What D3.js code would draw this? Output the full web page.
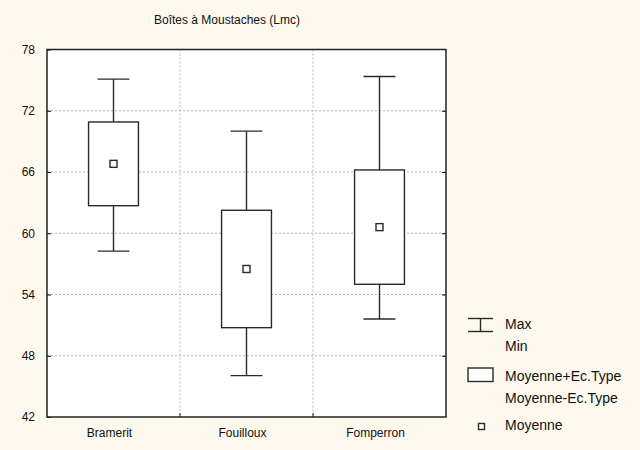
<!DOCTYPE html>
<html>
<head>
<meta charset="utf-8">
<script src="https://cdn.jsdelivr.net/npm/d3@7"></script>
<style>
  body { margin: 0; background: #fdf9ee; }
  svg { display: block; font-family: "Liberation Sans", Arial, sans-serif; }
  .tick text { font-size: 12px; fill: #111; }
</style>
</head>
<body>
<div id="chart"></div>
<script>
// data
const categories = ["Bramerit", "Fouilloux", "Fomperron"];
const means = [66.8, 56.5, 60.6];
const stdDevs = [4.1, 5.75, 5.6];
const mins = [58.25, 46.05, 51.6];
const maxs = [75.1, 70.0, 75.35];
const yTicks = [42, 48, 54, 60, 66, 72, 78];

const width = 640, height = 450;
const margin = {top: 49.5, right: 194, bottom: 33, left: 47};

const svg = d3.select("#chart")
    .append("svg")
    .attr("width", width)
    .attr("height", height);

svg.append("rect")
    .attr("width", width)
    .attr("height", height)
    .attr("fill", "#fdf9ee");

const x = d3.scaleBand()
    .domain(categories)
    .range([margin.left, width - margin.right])
    .padding(0);

const y = d3.scaleLinear()
    .domain([42, 78])
    .range([height - margin.bottom, margin.top]);

// plot background
svg.append("rect")
    .attr("x", x.range()[0])
    .attr("y", y(78))
    .attr("width", x.range()[1] - x.range()[0])
    .attr("height", y(42) - y(78))
    .attr("fill", "#fff");

// grid
const grid = svg.append("g").attr("stroke", "#b5b5b5").attr("stroke-dasharray", "2,2");
grid.selectAll(".hgrid")
    .data(yTicks.slice(1, -1))
    .join("line")
    .attr("x1", x.range()[0]).attr("x2", x.range()[1])
    .attr("y1", d => y(d)).attr("y2", d => y(d));
grid.selectAll(".vgrid")
    .data(categories.slice(1))
    .join("line")
    .attr("x1", d => x(d)).attr("x2", d => x(d))
    .attr("y1", y(78)).attr("y2", y(42));

// axes (inward ticks)
const yAxis = svg.append("g")
    .attr("transform", `translate(${x.range()[0]},0)`)
    .call(d3.axisLeft(y).tickValues(yTicks).tickSize(-4).tickPadding(12));
yAxis.select(".domain").remove();

const yAxisR = svg.append("g")
    .attr("transform", `translate(${x.range()[1]},0)`)
    .call(d3.axisRight(y).tickValues(yTicks.slice(1, -1)).tickSize(-4).tickFormat(""));
yAxisR.select(".domain").remove();

const xAxis = svg.append("g")
    .attr("transform", `translate(0,${y(42)})`)
    .call(d3.axisBottom(x).tickSize(0).tickPadding(11));
xAxis.select(".domain").remove();
xAxis.selectAll("text").attr("dx", -4);

svg.append("g").selectAll("line")
    .data(categories.slice(1))
    .join("line")
    .attr("x1", d => x(d)).attr("x2", d => x(d))
    .attr("y1", y(42)).attr("y2", y(42) - 4)
    .attr("stroke", "#222");

// frame
svg.append("rect")
    .attr("x", x.range()[0])
    .attr("y", y(78))
    .attr("width", x.range()[1] - x.range()[0])
    .attr("height", y(42) - y(78))
    .attr("fill", "none")
    .attr("stroke", "#222")
    .attr("stroke-width", 1.5);

// boxes
const boxW = x.bandwidth() * 0.375;
const capW = x.bandwidth() * 0.24;
const data = categories.map((c, i) => ({
    name: c, mean: means[i], lo: means[i] - stdDevs[i], hi: means[i] + stdDevs[i], min: mins[i], max: maxs[i]
}));

const g = svg.append("g")
    .selectAll("g")
    .data(data)
    .join("g")
    .attr("transform", d => `translate(${x(d.name) + x.bandwidth() / 2},0)`)
    .attr("stroke", "#2a2a2a")
    .attr("stroke-width", 1.4)
    .attr("fill", "none");

g.append("line")
    .attr("y1", d => y(d.max)).attr("y2", d => y(d.hi));
g.append("line")
    .attr("y1", d => y(d.lo)).attr("y2", d => y(d.min));
g.append("line")
    .attr("x1", -capW / 2).attr("x2", capW / 2)
    .attr("y1", d => y(d.max)).attr("y2", d => y(d.max));
g.append("line")
    .attr("x1", -capW / 2).attr("x2", capW / 2)
    .attr("y1", d => y(d.min)).attr("y2", d => y(d.min));
g.append("rect")
    .attr("x", -boxW / 2)
    .attr("width", boxW)
    .attr("y", d => y(d.hi))
    .attr("height", d => y(d.lo) - y(d.hi))
    .attr("fill", "#fff");
g.append("rect")
    .attr("x", -3.5).attr("width", 7)
    .attr("y", d => y(d.mean) - 3.5).attr("height", 7)
    .attr("fill", "#fff");

// title
svg.append("text")
    .attr("x", 227)
    .attr("y", 24)
    .attr("text-anchor", "middle")
    .attr("font-size", 12)
    .attr("fill", "#111")
    .text("Boîtes à Moustaches (Lmc)");

// legend
const leg = svg.append("g").attr("stroke", "#2a2a2a").attr("stroke-width", 1.4).attr("fill", "none");
leg.append("line").attr("x1", 468).attr("x2", 493).attr("y1", 318.5).attr("y2", 318.5);
leg.append("line").attr("x1", 468).attr("x2", 493).attr("y1", 331.5).attr("y2", 331.5);
leg.append("line").attr("x1", 480.5).attr("x2", 480.5).attr("y1", 318.5).attr("y2", 331.5);
leg.append("rect").attr("x", 468).attr("y", 368).attr("width", 25).attr("height", 13.5).attr("fill", "#fff");
leg.append("rect").attr("x", 478.5).attr("y", 423.5).attr("width", 6).attr("height", 6).attr("fill", "#fff");

const legendLabels = ["Max", "Min", "Moyenne+Ec.Type", "Moyenne-Ec.Type", "Moyenne"];
const legendY = [329, 350.5, 381, 402.5, 430];
svg.append("g").selectAll("text")
    .data(legendLabels)
    .join("text")
    .attr("x", 505)
    .attr("y", (d, i) => legendY[i])
    .attr("font-size", 14)
    .attr("fill", "#111")
    .text(d => d);
</script>
</body>
</html>
